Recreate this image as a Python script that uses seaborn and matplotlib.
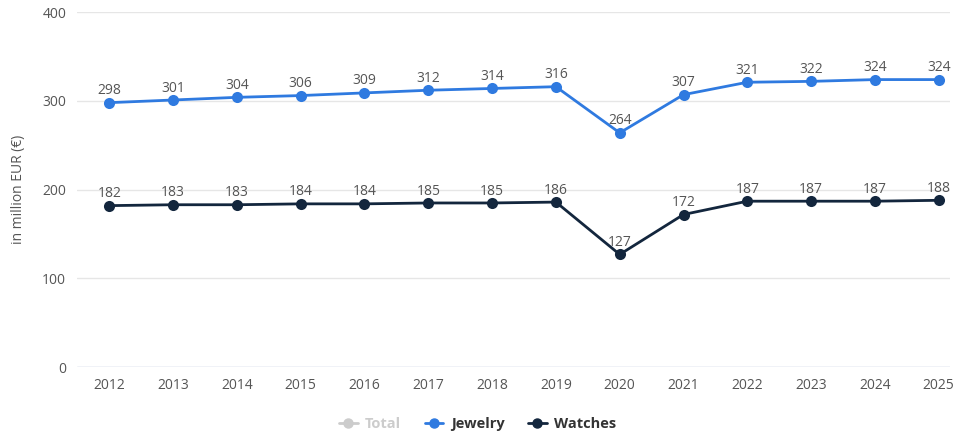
import matplotlib
matplotlib.use("Agg")
import matplotlib.pyplot as plt
from matplotlib.lines import Line2D
import seaborn as sns
import pandas as pd

# datos
years = list(range(2012, 2026))
jewelry = [298, 301, 304, 306, 309, 312, 314, 316, 264, 307, 321, 322, 324, 324]
watches = [182, 183, 183, 184, 184, 185, 185, 186, 127, 172, 187, 187, 187, 188]
series_names = ["Total", "Jewelry", "Watches"]
y_ticks = [0, 100, 200, 300, 400]

c_jew = "#2f7ae0"
c_wat = "#13263d"
c_tot = "#cccccc"

sns.set_style("white")
plt.rcParams["font.family"] = ["Open Sans", "DejaVu Sans"]

df = pd.DataFrame({"year": years * 2,
                   "value": jewelry + watches,
                   "serie": ["Jewelry"] * len(years) + ["Watches"] * len(years)})

fig = plt.figure(figsize=(9.55, 4.33), dpi=100)
ax = fig.add_axes([0.081, 0.152, 0.914, 0.82])

for y in y_ticks:
    ax.axhline(y, color="#e6e6e6", lw=1, zorder=0)
ax.axhline(0, color="#ccd6eb", lw=1, zorder=0)

sns.lineplot(data=df, x="year", y="value", hue="serie",
             palette={"Jewelry": c_jew, "Watches": c_wat},
             marker="o", markersize=8, markeredgewidth=0, lw=2,
             legend=False, ax=ax)

# etiquetas de valores
for x, v in zip(years, jewelry):
    ax.text(x, v + 5, str(v), ha="center", va="bottom", fontsize=10, color="#555555")
for x, v in zip(years, watches):
    ax.text(x, v + 5, str(v), ha="center", va="bottom", fontsize=10, color="#555555")

ax.set_xlim(2011.5, 2025.18)
ax.set_ylim(0, 400)
ax.set_xticks(years)
ax.set_yticks(y_ticks)
ax.tick_params(axis="both", length=0, labelsize=10, colors="#555555", pad=8)
ax.set_xlabel("")
ax.set_ylabel("in million EUR (€)", fontsize=10, color="#555555", labelpad=12)
for s in ax.spines.values():
    s.set_visible(False)

handles = [Line2D([], [], color=c, marker="o", markersize=6.5, lw=2)
           for c in [c_tot, c_jew, c_wat]]
leg = fig.legend(handles, series_names, loc="lower center", ncol=3,
                 bbox_to_anchor=(0.5, -0.025), frameon=False, fontsize=10.5,
                 handlelength=1.3, columnspacing=1.6, handletextpad=0.5)
for t, c in zip(leg.get_texts(), [c_tot, "#333333", "#333333"]):
    t.set_color(c)
    t.set_fontweight("bold")

fig.savefig("out.png", dpi=100)
